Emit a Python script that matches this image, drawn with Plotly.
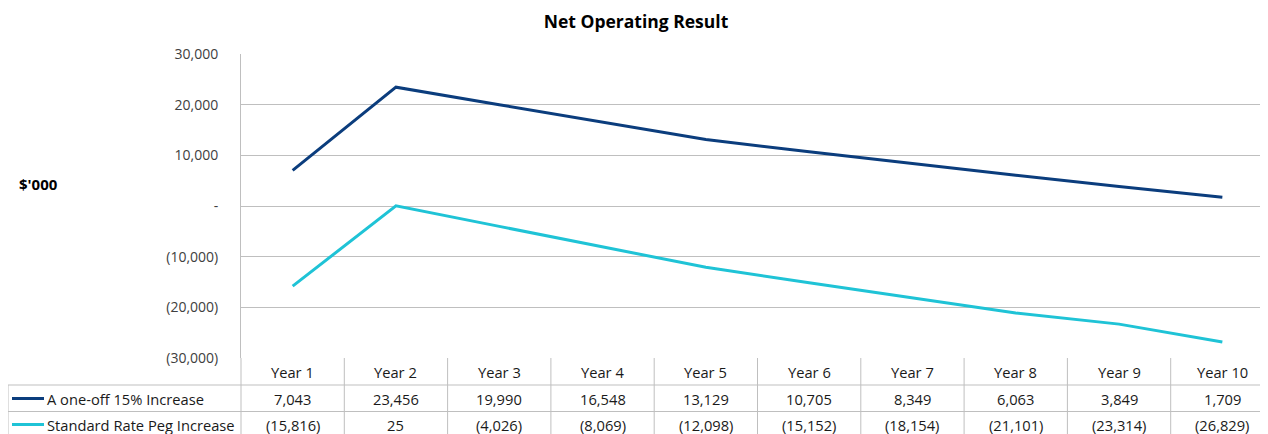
import plotly.graph_objects as go

years = ["Year 1", "Year 2", "Year 3", "Year 4", "Year 5", "Year 6", "Year 7", "Year 8", "Year 9", "Year 10"]
series_names = ["A one-off 15% Increase", "Standard Rate Peg Increase"]
one_off = [7043, 23456, 19990, 16548, 13129, 10705, 8349, 6063, 3849, 1709]
rate_peg = [-15816, 25, -4026, -8069, -12098, -15152, -18154, -21101, -23314, -26829]
colors = ["#0b3d7d", "#1fc3d6"]
y_tickvals = [30000, 20000, 10000, 0, -10000, -20000, -30000]

def fmt(v):
    if v == 0:
        return "-"
    if v < 0:
        return "({:,})".format(-v)
    return "{:,}".format(v)

# page body has an 8px default margin: work in screen coords, offset by OFF
OFF = 8
SW, SH = 1268, 434
W, H = SW - OFF, SH - OFF
L_S, T_S, B_S = 241, 54, 358          # plot area edges in screen px
ML, MR, MT, MB = L_S - OFF, 0, T_S - OFF, SH - B_S
plot_w = W - ML - MR
plot_h = H - MT - MB
x_idx = list(range(len(years)))
col_w = 103.3
x0 = -0.5
x1 = x0 + plot_w / col_w

def py(Ys):
    return (B_S - Ys) / plot_h

def pxs(Xs):
    return (Xs - L_S) / plot_w

def px(xd):
    return (xd - x0) / (x1 - x0)

font = "Open Sans, sans-serif"
fig = go.Figure()
for name, vals, c in zip(series_names, [one_off, rate_peg], colors):
    fig.add_trace(go.Scatter(x=x_idx, y=vals, mode="lines", name=name,
                             line=dict(color=c, width=3), showlegend=False))

grid = "#bfbfbf"
shapes = []
for k in range(len(years)):
    shapes.append(dict(type="line", xref="paper", yref="paper", x0=px(k - 0.5), x1=px(k - 0.5),
                       y0=py(B_S), y1=py(SH + 5), line=dict(color=grid, width=1)))
for Ys in [385, 411.5]:
    shapes.append(dict(type="line", xref="paper", yref="paper", x0=pxs(8), x1=1.01,
                       y0=py(Ys), y1=py(Ys), line=dict(color=grid, width=1)))
shapes.append(dict(type="line", xref="paper", yref="paper", x0=pxs(8), x1=pxs(8),
                   y0=py(385), y1=py(SH + 5), line=dict(color=grid, width=1)))

ann = []
row_y = [372, 398.5, 424.5]
tf = dict(size=14.7, color="#1a1a1a", family=font)
for k, yr in enumerate(years):
    ann.append(dict(x=k, y=py(row_y[0]), xref="x", yref="paper", text=yr, showarrow=False,
                    xanchor="center", yanchor="middle", font=tf))
    for r, vals in enumerate([one_off, rate_peg]):
        ann.append(dict(x=k, y=py(row_y[r + 1]), xref="x", yref="paper", text=fmt(vals[k]), showarrow=False,
                        xanchor="center", yanchor="middle", font=tf))
for r, (name, c) in enumerate(zip(series_names, colors)):
    Ys = row_y[r + 1]
    shapes.append(dict(type="line", xref="paper", yref="paper", x0=pxs(12), x1=pxs(44),
                       y0=py(Ys), y1=py(Ys), line=dict(color=c, width=3)))
    ann.append(dict(x=pxs(44.5), y=py(Ys), xref="paper", yref="paper", text=name, showarrow=False,
                    xanchor="left", yanchor="middle", font=tf))

ann.append(dict(x=pxs(17), y=py(184), xref="paper", yref="paper", text="<b>$'000</b>",
                showarrow=False, xanchor="left", yanchor="middle",
                font=dict(size=15, color="#000000", family=font)))

fig.update_layout(
    width=W, height=H,
    margin=dict(l=ML, r=MR, t=MT, b=MB),
    paper_bgcolor="white", plot_bgcolor="white",
    title=dict(text="<b>Net Operating Result</b>", x=(636 - OFF) / W, xanchor="center",
               y=1 - (22 - OFF) / H, yanchor="middle",
               font=dict(size=17.5, color="#000000", family=font)),
    xaxis=dict(range=[x0, x1], showticklabels=False, showgrid=False, zeroline=False,
               showline=False, fixedrange=True),
    yaxis=dict(range=[-30000, 30000], tickvals=y_tickvals, ticktext=[fmt(v) for v in y_tickvals],
               showgrid=True, gridcolor=grid, gridwidth=1, zeroline=False, showline=True,
               linecolor=grid, linewidth=1, ticks="", ticklabelstandoff=19,
               tickfont=dict(size=14, color="#404040", family=font)),
    shapes=shapes, annotations=ann,
    font=dict(family=font),
)
fig.write_html("out.html")
